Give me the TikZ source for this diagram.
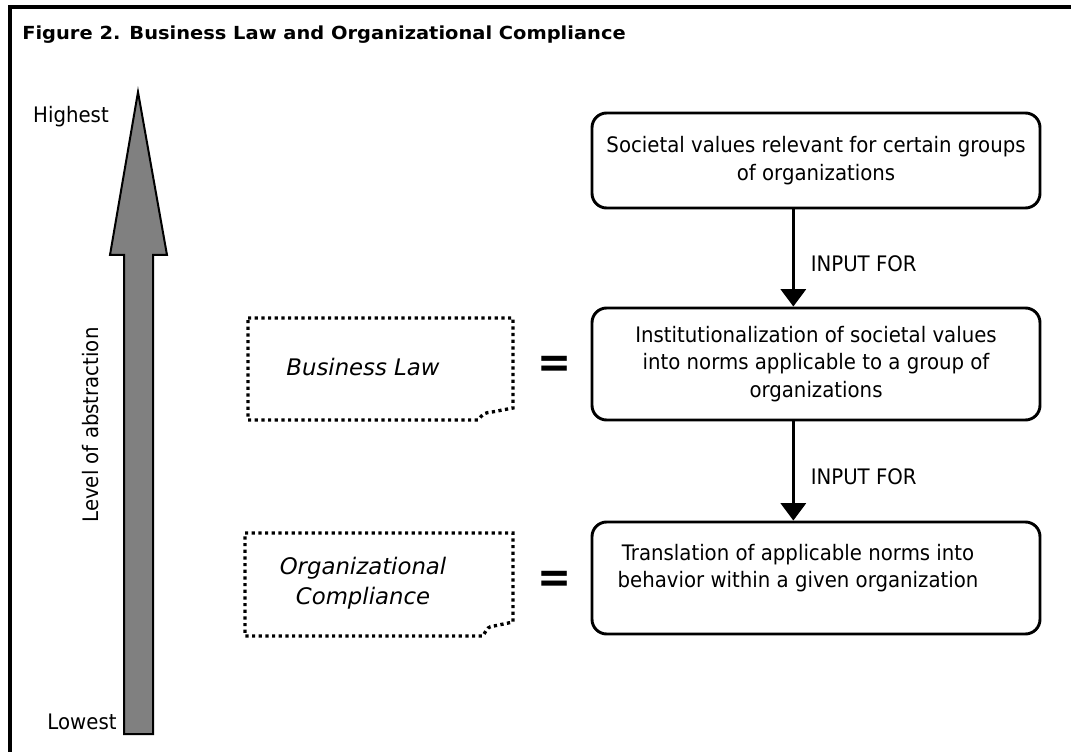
\documentclass[tikz,border=0pt]{standalone}
\usepackage{fontspec}
\setmainfont{DejaVu Sans}[FakeStretch=0.925]
\newfontfamily\titlefont{DejaVu Sans}[FakeStretch=1.08]
\newfontfamily\notefont{DejaVu Sans}
\usetikzlibrary{arrows.meta,positioning}

\begin{document}
\begin{tikzpicture}[x=0.75pt,y=-0.75pt,
		>={Triangle[width=18.75pt,length=13pt]},
		txt/.style={font=\fontsize{16}{20.6}\selectfont,inner sep=0pt,align=center},
		notetxt/.style={font=\notefont\fontsize{17.1}{22.5}\selectfont\itshape,inner sep=0pt,align=center},
		stepbox/.style={draw,line width=2.2pt,rounded corners=11pt,minimum width=336pt,txt},
		notebox/.style={line width=2.5pt,dash pattern=on 2.4pt off 2.6pt},
		eqsign/.style={font=\fontsize{33}{33}\selectfont\bfseries,inner sep=0pt},
		flow/.style={->,line width=2.2pt}
	]
	\useasboundingbox (0,0) rectangle (1071,752);

	% frame and title
	\draw[line width=3pt] (9.5,752) -- (9.5,7) -- (1075,7);
	\node[anchor=base west,inner sep=0pt,font=\titlefont\fontsize{13.5}{15}\selectfont\bfseries] (title) at (22,40) {Figure 2. Business Law and Organizational Compliance};

	% level of abstraction
	\draw[line width=1.5pt,fill=gray] (138,92) -- (167,255) -- (153,255) -- (153,734) -- (124,734) -- (124,255) -- (110,255) -- cycle;
	\node[txt] (hi) at (71,117) {Highest};
	\node[txt] (lo) at (82,722) {Lowest};
	\node[txt,rotate=90] (lvl) at (91,425) {Level of abstraction};

	% right column
	\node[stepbox,minimum height=71.25pt] (b1) at (816,160.5) {Societal values relevant for certain groups\\of organizations};
	\node[stepbox,minimum height=84pt] (b2) at (816,364) {Institutionalization of societal values\\into norms applicable to a group of\\organizations};
	\node[stepbox,minimum height=84pt] (b3) at (816,578) {};
	\node[txt] (t3) at (798,568) {Translation of applicable norms into\\behavior within a given organization};

	\draw[flow] ([xshift=-17pt]b1.south) -- node[anchor=west,inner sep=0pt,xshift=12pt,yshift=-4pt,txt]{INPUT FOR} ([xshift=-17pt]b2.north);
	\draw[flow] ([xshift=-17pt]b2.south) -- node[anchor=west,inner sep=0pt,xshift=12pt,yshift=-4pt,txt]{INPUT FOR} ([xshift=-17pt]b3.north);

	% notes
	\draw[notebox] (248,318) -- (513,318) -- (513,408) -- (492,412) .. controls (484,413) .. (478,420) -- (248,420) -- cycle;
	\node[notetxt] (bl) at (363,367) {Business Law};
	\node[eqsign] (eq1) at (555,367) {=};

	\draw[notebox] (245,533) -- (513,533) -- (513,622) -- (494,626) .. controls (488,627) .. (483,636) -- (245,636) -- cycle;
	\node[notetxt] (oc) at (363,583) {Organizational\\Compliance};
	\node[eqsign] (eq2) at (555,582) {=};

\end{tikzpicture}
\end{document}
